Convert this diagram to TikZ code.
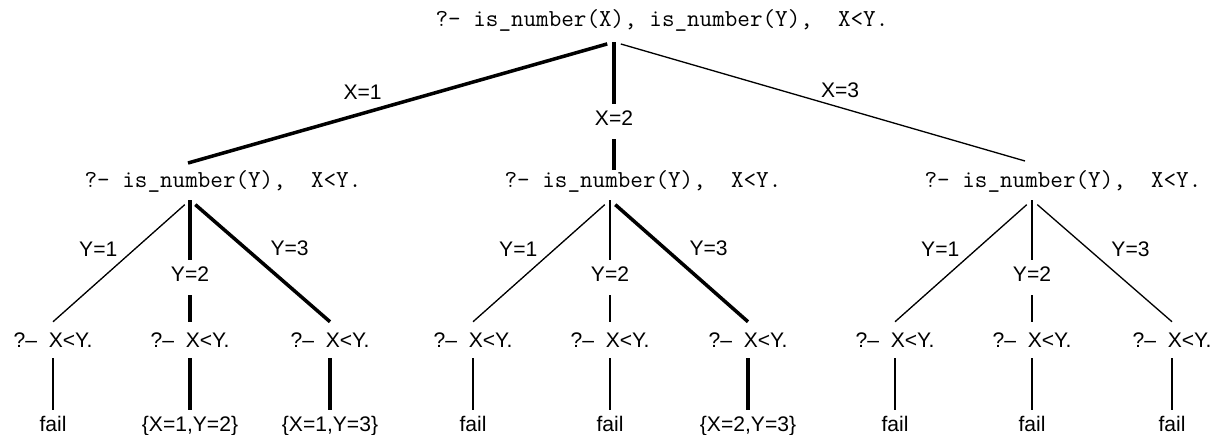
\documentclass[tikz,border=0pt]{standalone}
\usepackage{fontspec}
\setmainfont{Liberation Sans}

\begin{document}
\begin{tikzpicture}[
    x=0.02cm, y=-0.02cm,
    goal/.style={font=\fontsize{13.9}{16}\selectfont\ttfamily, inner sep=0pt},
    leaf/.style={font=\fontsize{12}{14}\selectfont, inner sep=6pt},
    res/.style={font=\fontsize{12}{14}\selectfont, text height=0.75em, text depth=0.2em, inner sep=5pt},
    lbl/.style={font=\fontsize{12}{14}\selectfont, inner sep=2pt},
    gap/.style={lbl, inner sep=3.7pt},
    branch/.style={line width=0.75pt},
    proof/.style={line width=2pt}
]
\useasboundingbox (0,0) rectangle (1212,434);

% the query
\node[goal] (g0) at (662,20) {?- is\_number(X), is\_number(Y),\ \ X<Y.};
\coordinate (g0-out) at (614,42);

% after the first goal
\node[goal] (g1) at (223,181) {?- is\_number(Y),\ \ X<Y.};
\node[goal] (g2) at (643,181) {?- is\_number(Y),\ \ X<Y.};
\node[goal] (g3) at (1063,181) {?- is\_number(Y),\ \ X<Y.};
\coordinate (g1-in) at (188,163);
\coordinate (g2-in) at (614,170);
\coordinate (g3-in) at (1025,161);
\coordinate (g1-out) at (190,200);
\coordinate (g2-out) at (610,200);
\coordinate (g3-out) at (1032,200);

\node[gap] (x2) at (614,118) {X=2};
\draw[proof, shorten <=4pt] (g0-out) -- node[lbl, above=5pt, pos=0.59] (x1) {X=1} (g1-in);
\draw[proof, shorten <=4pt] (g0-out) -- (x2) -- (g2-in);
\draw[branch, shorten <=4pt] (g0-out) -- node[lbl, above=3pt, pos=0.55] (x3) {X=3} (g3-in);

% after the second goal
\node[leaf] (l11) at (53,340) {?–\ \ X<Y.};
\node[leaf] (l12) at (190,340) {?–\ \ X<Y.};
\node[leaf] (l13) at (330,340) {?–\ \ X<Y.};
\node[leaf] (l21) at (473,340) {?–\ \ X<Y.};
\node[leaf] (l22) at (610,340) {?–\ \ X<Y.};
\node[leaf] (l23) at (748,340) {?–\ \ X<Y.};
\node[leaf] (l31) at (895,340) {?–\ \ X<Y.};
\node[leaf] (l32) at (1032,340) {?–\ \ X<Y.};
\node[leaf] (l33) at (1172,340) {?–\ \ X<Y.};

\node[gap] (y12) at (190,274) {Y=2};
\node[gap] (y22) at (610,274) {Y=2};
\node[gap] (y32) at (1032,274) {Y=2};

\draw[branch, shorten <=4pt] (g1-out) -- node[lbl, above left, pos=0.5] (y11) {Y=1} (l11.north);
\draw[proof, shorten <=4pt] (g1-out) -- (y12) -- (l12);
\draw[proof, shorten <=4pt] (g1-out) -- node[lbl, above right, xshift=3pt, pos=0.5] (y13) {Y=3} (l13.north);

\draw[branch, shorten <=4pt] (g2-out) -- node[lbl, above left, pos=0.5] (y21) {Y=1} (l21.north);
\draw[branch, shorten <=4pt] (g2-out) -- (y22) -- (l22);
\draw[proof, shorten <=4pt] (g2-out) -- node[lbl, above right, xshift=3pt, pos=0.5] (y23) {Y=3} (l23.north);

\draw[branch, shorten <=4pt] (g3-out) -- node[lbl, above left, pos=0.5] (y31) {Y=1} (l31.north);
\draw[branch, shorten <=4pt] (g3-out) -- (y32) -- (l32);
\draw[branch, shorten <=4pt] (g3-out) -- node[lbl, above right, xshift=3pt, pos=0.5] (y33) {Y=3} (l33.north);

% answers
\node[res] (r11) at (53,427) {fail};
\node[res] (r12) at (190,427) {\{X=1,Y=2\}};
\node[res] (r13) at (330,427) {\{X=1,Y=3\}};
\node[res] (r21) at (473,427) {fail};
\node[res] (r22) at (610,427) {fail};
\node[res] (r23) at (748,427) {\{X=2,Y=3\}};
\node[res] (r31) at (895,427) {fail};
\node[res] (r32) at (1032,427) {fail};
\node[res] (r33) at (1172,427) {fail};

\draw[branch] (l11) -- (r11);
\draw[proof] (l12) -- (r12);
\draw[proof] (l13) -- (r13);
\draw[branch] (l21) -- (r21);
\draw[branch] (l22) -- (r22);
\draw[proof] (l23) -- (r23);
\draw[branch] (l31) -- (r31);
\draw[branch] (l32) -- (r32);
\draw[branch] (l33) -- (r33);
\end{tikzpicture}
\end{document}
